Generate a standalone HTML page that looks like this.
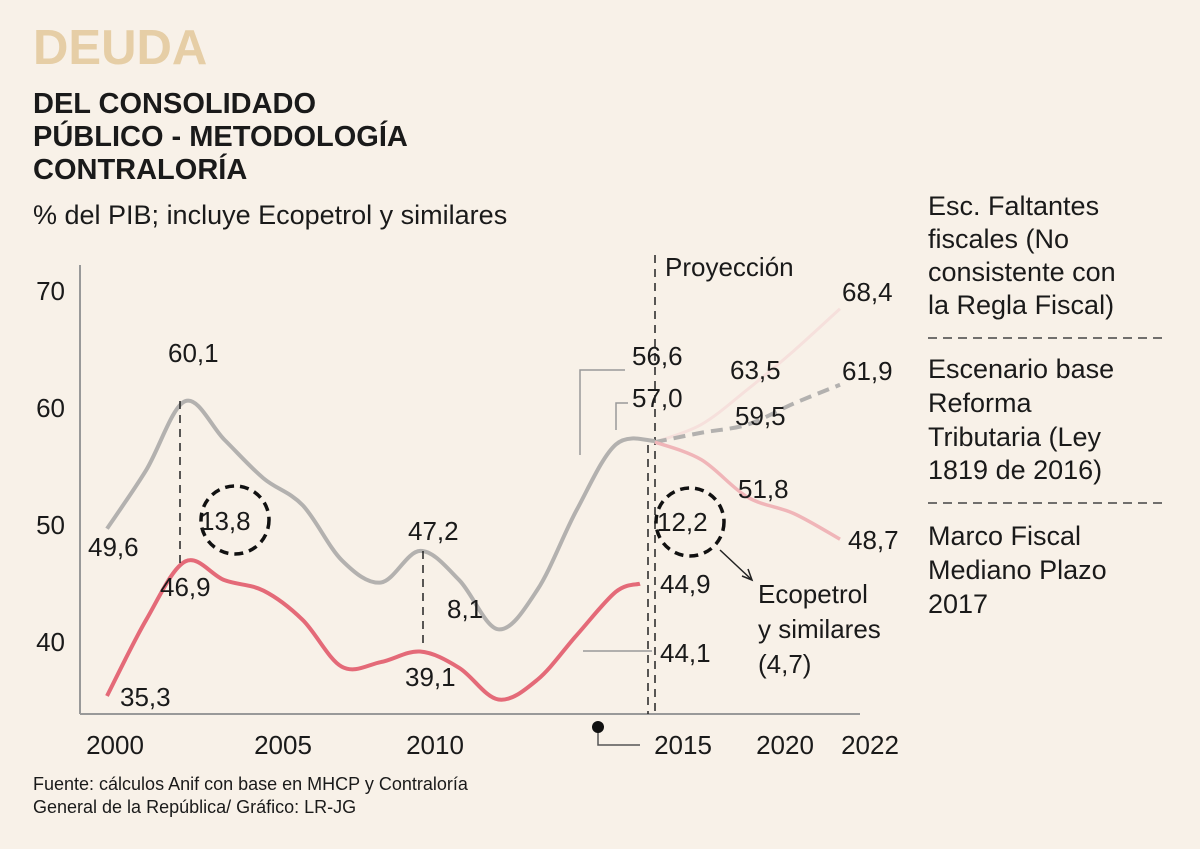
<!DOCTYPE html>
<html><head><meta charset="utf-8"><style>
body{margin:0;background:#f8f1e8;font-family:"Liberation Sans",sans-serif;}
#wrap{position:relative;width:1200px;height:849px;overflow:hidden;background:#f8f1e8}
.t{position:absolute;color:#1a1a1a}
</style></head><body>
<div id="wrap">
<div class="t" style="left:33px;top:20px;font-size:49px;font-weight:bold;color:#e6cea6;letter-spacing:0px">DEUDA</div>
<div class="t" style="left:33px;top:88px;font-size:29px;font-weight:bold;line-height:33px">DEL CONSOLIDADO<br>PÚBLICO - METODOLOGÍA<br>CONTRALORÍA</div>
<div class="t" style="left:33px;top:200px;font-size:27px">% del PIB; incluye Ecopetrol y similares</div>
<div class="t" style="left:33px;top:773px;font-size:18px;line-height:23px">Fuente: cálculos Anif con base en MHCP y Contraloría<br>General de la República/ Gráfico: LR-JG</div>
<svg id="chart" width="1200" height="849" style="position:absolute;left:0;top:0"></svg>
</div>
<script>
const histYears=[2000,2001,2002,2003,2004,2005,2006,2007,2008,2009,2010,2011,2012,2013,2014];
const grayHist=[49.6,54.6,60.5,57.2,53.9,51.6,46.9,45.0,47.7,45.2,41.0,44.4,51.2,56.8,57.1];
const redHist=[35.3,41.8,46.8,45.2,44.3,41.8,37.8,38.2,39.1,37.7,35.0,36.7,40.5,44.2,44.9];
const projYears=[2014,2016,2018,2020,2022];
const projHigh=[57.0,58.5,61.5,64.8,68.4];
const projBase=[57.0,57.8,58.5,60.3,61.9];
const projMfmp=[57.0,55.5,52.3,50.9,48.7];
const yTicks=[40,50,60,70];
const xTickLabels=[["2000",115],["2005",283],["2010",435],["2015",683],["2020",785],["2022",870]];
const y=v=>641-(v-40)*11.7;
const x=yr=>yr<=2014?107+(yr-2000)*39.14:655+(yr-2014)*23.125;
const svg=document.getElementById('chart');
const NS='http://www.w3.org/2000/svg';
function mk(tag,attrs,parent){const e=document.createElementNS(NS,tag);for(const k in attrs)e.setAttribute(k,attrs[k]);(parent||svg).appendChild(e);return e;}
function txt(s,xx,yy,size,anchor){const e=mk('text',{x:xx,y:yy,'font-size':size||25,'text-anchor':anchor||'start',fill:'#1a1a1a','font-family':'Liberation Sans, sans-serif'});e.textContent=s;return e;}
function smooth(pts){let d=`M${pts[0][0]},${pts[0][1]}`;for(let i=0;i<pts.length-1;i++){const p0=pts[i-1]||pts[i],p1=pts[i],p2=pts[i+1],p3=pts[i+2]||p2;d+=` C${p1[0]+(p2[0]-p0[0])/6},${p1[1]+(p2[1]-p0[1])/6} ${p2[0]-(p3[0]-p1[0])/6},${p2[1]-(p3[1]-p1[1])/6} ${p2[0]},${p2[1]}`;}return d;}
let e=mk('line',{x1:80,y1:265,x2:80,y2:714,stroke:'#999','stroke-width':2});

e=mk('line',{x1:80,y1:714,x2:860,y2:714,stroke:'#999','stroke-width':2});

yTicks.forEach(t=>{const el=txt(String(t),65,y(t)+10,26,'end');});
xTickLabels.forEach(t=>{const el=txt(t[0],t[1],754,26,'middle');});
e=mk('line',{x1:655,y1:255,x2:655,y2:714,stroke:'#222','stroke-width':1.5,'stroke-dasharray':'8,6'});

e=mk('line',{x1:648,y1:445,x2:648,y2:714,stroke:'#222','stroke-width':1.5,'stroke-dasharray':'8,6'});

e=txt('Proyección',665,276,26);
const hp=histYears.map((yr,i)=>[x(yr),y(grayHist[i])]);
e=mk('path',{d:smooth(hp),fill:'none',stroke:'#b3b1af','stroke-width':4});

const rp=histYears.map((yr,i)=>[x(yr)-(i==14?15:0),y(redHist[i])]);
e=mk('path',{d:smooth(rp),fill:'none',stroke:'#e46a78','stroke-width':4});

e=mk('path',{d:smooth(projYears.map((yr,i)=>[x(yr),y(projHigh[i])])),fill:'none',stroke:'#f6e0dc','stroke-width':3});

e=mk('path',{d:smooth(projYears.map((yr,i)=>[x(yr),y(projBase[i])])),fill:'none',stroke:'#b3b1af','stroke-width':4,'stroke-dasharray':'12,7'});

e=mk('path',{d:smooth(projYears.map((yr,i)=>[x(yr),y(projMfmp[i])])),fill:'none',stroke:'#f0b5b8','stroke-width':3.5});

[[180,401,563],[423,551,648]].forEach(a=>{const l=mk('line',{x1:a[0],y1:a[1],x2:a[0],y2:a[2],stroke:'#222','stroke-width':1.5,'stroke-dasharray':'8,6'});});
mk('polyline',{points:'580,455 580,370 625,370',fill:'none',stroke:'#999','stroke-width':1.5});
mk('polyline',{points:'616,430 616,403 628,403',fill:'none',stroke:'#999','stroke-width':1.5});
mk('line',{x1:583,y1:651,x2:652,y2:651,stroke:'#999','stroke-width':1.5});
mk('polyline',{points:'598,727 598,745 640,745',fill:'none',stroke:'#555','stroke-width':1.5});
mk('circle',{cx:598,cy:727,r:6,fill:'#111'});
mk('polyline',{points:'720,550 752,580',fill:'none',stroke:'#222','stroke-width':1.5});
mk('polyline',{points:'742,576 752,580 748,569',fill:'none',stroke:'#222','stroke-width':1.5});
[[235,520],[690,522]].forEach(c=>{const cc=mk('circle',{cx:c[0],cy:c[1],r:34,fill:'none',stroke:'#111','stroke-width':3.5,'stroke-dasharray':'9,6'});});
[['60,1',168,362],['49,6',88,556],['13,8',200,530],['46,9',160,596],['35,3',120,706],['47,2',408,540],['8,1',447,618],['39,1',405,686],['56,6',632,365],['57,0',632,407],['63,5',730,379],['59,5',735,425],['68,4',842,301],['61,9',842,380],['51,8',738,498],['12,2',657,531],['48,7',848,549],['44,9',660,593],['44,1',660,662]].forEach(l=>{const t=txt(l[0],l[1],l[2],26);});
[['Ecopetrol',758,603],['y similares',758,638],['(4,7)',758,673]].forEach(l=>{const t=txt(l[0],l[1],l[2],26);});
const leg=[['Esc. Faltantes',215],['fiscales (No',248],['consistente con',281],['la Regla Fiscal)',314],['Escenario base',378],['Reforma',412],['Tributaria (Ley',446],['1819 de 2016)',479],['Marco Fiscal',545],['Mediano Plazo',579],['2017',613]];
leg.forEach(l=>{const t=txt(l[0],928,l[1],27);});
[338,503].forEach(yy=>{const l=mk('line',{x1:928,y1:yy,x2:1168,y2:yy,stroke:'#444','stroke-width':1.5,'stroke-dasharray':'9,6'});});
</script>
</body></html>
